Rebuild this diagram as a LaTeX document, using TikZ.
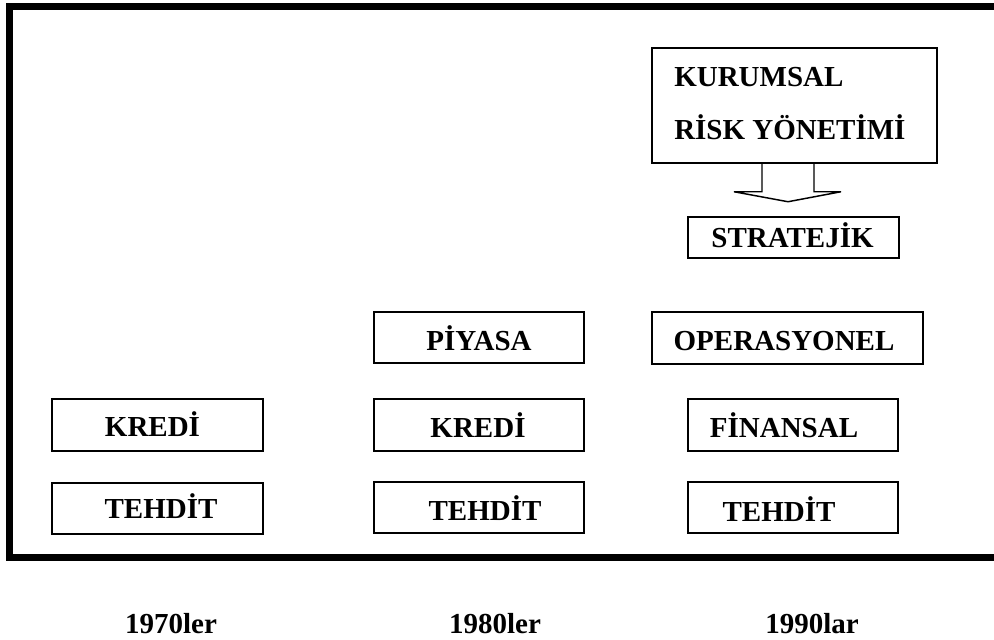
\documentclass[tikz,border=0pt]{standalone}
\usepackage{fontspec}
\setmainfont{Liberation Serif}
\usetikzlibrary{fit}
\begin{document}
\begin{tikzpicture}[x=0.75pt,y=-0.75pt,
  box/.style={draw, line width=1.1pt, inner sep=0pt},
  lbl/.style={font=\bfseries\fontsize{21.75}{26}\selectfont, inner sep=0pt, anchor=base},
  lblw/.style={lbl, anchor=base west}]
\useasboundingbox (0,0) rectangle (994,639);
\begin{scope}
  \clip (0,0) rectangle (994,639);
  \draw[line width=5.25pt, line join=miter] (1010,6.5) -- (9,6.5) -- (9,557.5) -- (1010,557.5);
\end{scope}

% top box and block arrow
\node[box, fit={(652,48) (937,163)}] (kur) {};
\node[lblw] (kurt1) at (674,86) {KURUMSAL};
\node[lblw] (kurt2) at (674,139) {RİSK YÖNETİMİ};
\coordinate (s1) at (762,0);
\draw[line width=1.1pt, line join=miter]
  (kur.south -| s1) -- ++(0,28) -- ++(-28,0) -- ++(54,10) -- ++(53,-10) -- ++(-27,0) -- ++(0,-28);

\node[box, fit={(688,217) (899,258)}] (stra) {};
\node[lbl] (strat) at (792.5,247) {STRATEJİK};

% middle row
\node[box, fit={(374,312) (584,363)}] (piy) {};
\node[lbl] (piyt) at (479,350) {PİYASA};
\node[box, fit={(652,312) (923,364)}] (ope) {};
\node[lbl] (opet) at (784,350) {OPERASYONEL};

% credit row
\node[box, fit={(52,399) (263,451)}] (kr1) {};
\node[lbl] (kr1t) at (152.5,436) {KREDİ};
\node[box, fit={(374,399) (584,451)}] (kr2) {};
\node[lbl] (kr2t) at (478,437) {KREDİ};
\node[box, fit={(688,399) (898,451)}] (fin) {};
\node[lbl] (fint) at (784,437) {FİNANSAL};

% threat row
\node[box, fit={(52,483) (263,534)}] (te1) {};
\node[lbl] (te1t) at (161,518) {TEHDİT};
\node[box, fit={(374,482) (584,533)}] (te2) {};
\node[lbl] (te2t) at (485,520) {TEHDİT};
\node[box, fit={(688,482) (898,533)}] (te3) {};
\node[lbl] (te3t) at (779,521) {TEHDİT};

% years
\node[lbl] (y1) at (171,633) {1970ler};
\node[lbl] (y2) at (495,633) {1980ler};
\node[lbl] (y3) at (812,633) {1990lar};
\end{tikzpicture}
\end{document}
